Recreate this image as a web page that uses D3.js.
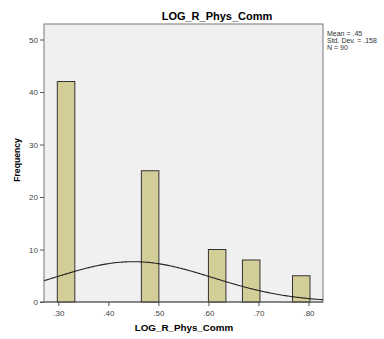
<!DOCTYPE html>
<html>
<head>
<meta charset="utf-8">
<script src="https://cdn.jsdelivr.net/npm/d3@7"></script>
<style>
  body { margin: 0; background: #fff; }
  text { font-family: "Liberation Sans", Arial, sans-serif; }
</style>
</head>
<body>
<div id="chart"></div>
<script>
// Histogram bins (start, end) and counts
const binStarts = [0.298, 0.466, 0.600, 0.668, 0.768];
const binEnds   = [0.333, 0.501, 0.635, 0.703, 0.803];
const counts    = [42, 25, 10, 8, 5];
const xTicks = [0.30, 0.40, 0.50, 0.60, 0.70, 0.80];
const yTicks = [0, 10, 20, 30, 40, 50];
const stats = ['Mean = .45', 'Std. Dev. = .158', 'N = 90'];
const mean = 0.45, sd = 0.158, n = 90, binWidth = 0.0338;

const W = 384, H = 339;
const margin = { top: 24, left: 44, right: 61, bot: 37 };

const xScale = d3.scaleLinear().domain([0.2714, 0.829]).range([margin.left, W - margin.right]);
const yScale = d3.scaleLinear().domain([0, 50]).range([302, 39.5]);

const svg = d3.select('#chart').append('svg')
  .attr('width', W)
  .attr('height', H);

// plot area
svg.append('rect')
  .attr('x', margin.left)
  .attr('y', margin.top)
  .attr('width', W - margin.right - margin.left)
  .attr('height', 302 - margin.top)
  .attr('fill', '#f0f0f0')
  .attr('stroke', '#777')
  .attr('stroke-width', 1);

// bars
svg.append('g').selectAll('rect')
  .data(counts)
  .join('rect')
  .attr('x', (d, i) => xScale(binStarts[i]))
  .attr('y', d => yScale(d))
  .attr('width', (d, i) => xScale(binEnds[i]) - xScale(binStarts[i]))
  .attr('height', d => yScale(0) - yScale(d))
  .attr('fill', '#d3cd97')
  .attr('stroke', '#333')
  .attr('stroke-width', 1);

// normal curve from the stated mean / sd / N
const curveX = d3.range(0, 201).map(i => 0.2714 + (0.829 - 0.2714) * i / 200);
const normal = x => n * binWidth / (sd * Math.sqrt(2 * Math.PI)) * Math.exp(-0.5 * ((x - mean) / sd) ** 2);
svg.append('path')
  .datum(curveX)
  .attr('d', d3.line().x(d => xScale(d)).y(d => yScale(normal(d))))
  .attr('fill', 'none')
  .attr('stroke', '#222')
  .attr('stroke-width', 1.1);

// axes
const xAxis = d3.axisBottom(xScale)
  .tickValues(xTicks)
  .tickFormat(d => d3.format('.2f')(d).replace(/^0/, ''))
  .tickSize(4);
const gx = svg.append('g')
  .attr('transform', 'translate(0, 302)')
  .call(xAxis);

const yAxis = d3.axisLeft(yScale).tickValues(yTicks).tickSize(4);
const gy = svg.append('g')
  .attr('transform', `translate(${margin.left}, 0)`)
  .call(yAxis);

[gx, gy].forEach(g => {
  g.select('.domain').remove();
  g.selectAll('line').attr('stroke', '#555');
  g.selectAll('text').attr('fill', '#444').style('font-size', '8px');
});
gx.selectAll('text').attr('dy', '0.9em');
gy.selectAll('text').attr('dx', '1px').attr('dy', '0.35em');

// bottom axis baseline
svg.append('line')
  .attr('x1', margin.left - 4).attr('x2', W - margin.right)
  .attr('y1', 302).attr('y2', 302)
  .attr('stroke', '#555');

// titles
svg.append('text')
  .attr('x', 217).attr('y', 20)
  .attr('text-anchor', 'middle')
  .style('font-size', '11px').style('font-weight', 'bold')
  .text('LOG_R_Phys_Comm');

svg.append('text')
  .attr('x', 184).attr('y', 331)
  .attr('text-anchor', 'middle')
  .style('font-size', '9.8px').style('font-weight', 'bold')
  .text('LOG_R_Phys_Comm');

svg.append('text')
  .attr('transform', 'translate(20, 160) rotate(-90)')
  .attr('text-anchor', 'middle')
  .style('font-size', '8.6px').style('font-weight', 'bold')
  .text('Frequency');

// stats legend
svg.append('g').selectAll('text')
  .data(stats)
  .join('text')
  .attr('x', 327)
  .attr('y', (d, i) => 36 + i * 6.8)
  .style('font-size', '7px')
  .attr('fill', '#333')
  .text(d => d);
</script>
</body>
</html>
